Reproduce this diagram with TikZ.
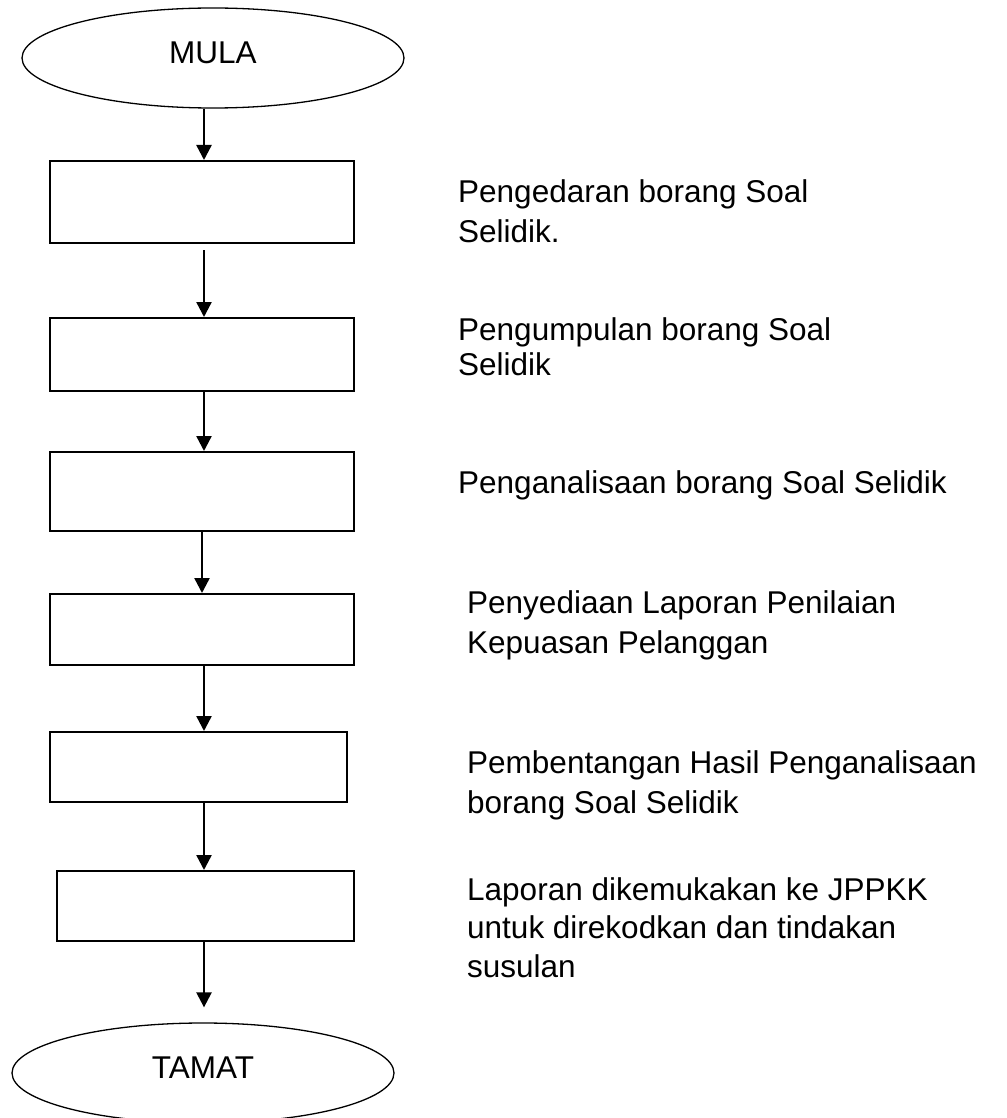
\documentclass[tikz,border=0pt]{standalone}
\usepackage{fontspec}
\setmainfont{Liberation Sans}
\usetikzlibrary{arrows.meta,shapes.geometric}

\begin{document}
\begin{tikzpicture}[x=1pt,y=-1pt,
  terminal/.style={draw, ellipse, line width=1.3pt, minimum width=382pt,
    minimum height=100pt, inner sep=0pt, text depth=10pt,
    font=\fontsize{31.5}{37}\selectfont},
  stepbox/.style={draw, rectangle, line width=2pt, inner sep=0pt},
  flow/.style={line width=2.4pt, -{Triangle[length=15pt,width=15pt]}},
  note/.style={anchor=base west, align=left, inner sep=0pt}
]
% page
\useasboundingbox[fill=white] (0,0) rectangle (1006,1118);
\clip (0,0) rectangle (1006,1118);

% main spine of the flow
\coordinate (spine) at (204,0);

% terminals
\node[terminal] (mula)  at (213,58)   {MULA};
\node[terminal] (tamat) at (203,1073) {TAMAT};

% process boxes
\node[stepbox, minimum width=304pt, minimum height=82pt] (box1) at (202,202)   {};
\node[stepbox, minimum width=304pt, minimum height=73pt] (box2) at (202,354.5) {};
\node[stepbox, minimum width=304pt, minimum height=79pt] (box3) at (202,491.5) {};
\node[stepbox, minimum width=304pt, minimum height=71pt] (box4) at (202,629.5) {};
\node[stepbox, minimum width=297pt, minimum height=70pt] (box5) at (198.5,767) {};
\node[stepbox, minimum width=297pt, minimum height=70pt] (box6) at (205.5,906) {};

% connectors
\draw[flow] (mula.south -| spine) -- (box1.north -| spine);
\draw[flow, shorten <=6pt] (box1.south -| spine) -- (box2.north -| spine);
\draw[flow] (box2.south -| spine) -- (box3.north -| spine);
\draw[flow] (box3.south) -- (box4.north);
\draw[flow] (box4.south -| spine) -- (box5.north -| spine);
\draw[flow] (box5.south -| spine) -- (box6.north -| spine);
\draw[flow, shorten >=15pt] (box6.south -| spine) -- (tamat.north -| spine);

% descriptions (placed by the baseline of their last line)
\node[note, font=\fontsize{31.5}{40}\selectfont] (t1) at (458,242)
  {Pengedaran borang Soal\\Selidik.};
\node[note, font=\fontsize{31.5}{35}\selectfont] (t2) at (458,375)
  {Pengumpulan borang Soal\\Selidik};
\node[note, font=\fontsize{31.5}{40}\selectfont] (t3) at (458,493)
  {Penganalisaan borang Soal Selidik};
\node[note, font=\fontsize{31.5}{40}\selectfont] (t4) at (467,653)
  {Penyediaan Laporan Penilaian\\Kepuasan Pelanggan};
\node[note, font=\fontsize{31.5}{40}\selectfont] (t5) at (467,813)
  {Pembentangan Hasil Penganalisaan\\borang Soal Selidik};
\node[note, font=\fontsize{31.5}{38.5}\selectfont] (t6) at (467,977)
  {Laporan dikemukakan ke JPPKK\\untuk direkodkan dan tindakan\\susulan};
\end{tikzpicture}
\end{document}
